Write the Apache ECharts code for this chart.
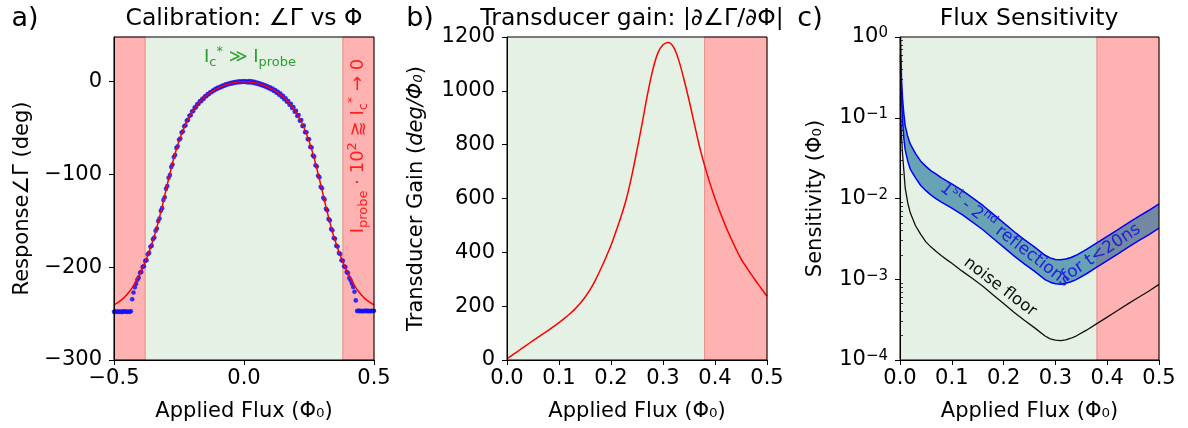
<!DOCTYPE html>
<html>
<head>
<meta charset="utf-8">
<script src="https://cdn.jsdelivr.net/npm/echarts@6/dist/echarts.min.js"></script>
<style>
html, body { margin: 0; padding: 0; background: #fff; }
#chart { width: 1188px; height: 428px; }
</style>
</head>
<body>
<div id="chart"></div>
<script>
const FONT = "'DejaVu Sans', sans-serif";

// ---- a) calibration: measured phase (dots) and fitted phase (line) ----
const dotFluxStart = -0.5;
const dotFluxStep = 0.005;
const dotPhase = [
  -248.1,-247.6,-248.3,-247.7,-248.2,-247.8,-248.4,-247.6,-248.0,-247.5,
  -248.3,-247.7,-248.1,-247.4,-234.5,-227.2,-221.6,-217.9,-213.6,-211.2,
  -206.0,-205.1,-199.8,-198.9,-193.3,-192.4,-186.0,-184.6,-178.1,-176.8,
  -169.8,-168.1,-160.7,-158.4,-150.2,-147.5,-139.3,-136.4,-127.7,-124.6,
  -115.6,-112.6,-103.6,-100.8,-92.1,-89.5,-81.3,-79.1,-71.5,-69.7,
  -62.8,-61.3,-55.0,-53.8,-48.1,-47.2,-42.1,-41.3,-36.8,-36.2,
  -32.2,-31.7,-28.1,-27.8,-24.5,-24.2,-21.3,-21.1,-18.5,-18.4,
  -15.9,-15.8,-13.5,-13.5,-11.5,-11.5,-9.6,-9.7,-7.9,-8.2,
  -6.5,-6.9,-5.3,-5.7,-4.1,-4.5,-3.0,-3.5,-2.1,-2.7,
  -1.3,-2.0,-0.7,-1.4,-0.2,-1.0,0.2,-0.7,0.4,-0.5,
  0.6,-0.5,0.4,-0.9,0.5,-1.1,0.2,-1.4,-0.3,-2.0,
  -1.0,-2.9,-1.9,-3.6,-2.9,-4.8,-3.8,-5.9,-5.1,-7.2,
  -6.3,-8.6,-7.6,-10.1,-9.2,-12.0,-11.1,-14.1,-13.0,-16.5,
  -15.4,-19.0,-18.0,-21.8,-20.9,-24.9,-24.0,-28.5,-27.6,-32.5,
  -31.6,-37.0,-36.1,-42.1,-41.5,-47.9,-47.5,-54.5,-54.6,-62.0,
  -62.2,-70.4,-71.0,-79.8,-80.9,-90.2,-91.6,-101.5,-103.0,-113.3,
  -115.0,-125.2,-127.1,-137.0,-138.7,-148.1,-149.6,-158.8,-160.3,-168.5,
  -169.4,-177.0,-177.8,-184.8,-185.8,-192.5,-193.2,-199.0,-199.9,-205.3,
  -206.4,-211.5,-214.0,-217.6,-221.3,-226.4,-235.8,-247.3,-246.6,-247.5,
  -246.9,-247.6,-247.0,-247.4,-246.8,-247.5,-247.1,-247.6,-246.9,-247.3,
  -247.0
];
// fit is even in flux: values for 0 ... 0.5 in steps of 0.01
const fitFluxStep = 0.01;
const fitPhase = [
  0, -0.1, -0.3, -0.7, -1.2, -1.8, -2.6, -3.5, -4.6, -5.8,
  -7.0, -8.4, -10.1, -12.0, -14.1, -16.5, -19.1, -22.0, -25.2, -28.9,
  -33.0, -37.7, -43.1, -49.2, -56.2, -64.0, -72.8, -82.7, -93.5, -105.0,
  -117.0, -129.0, -140.6, -151.5, -162.0, -171.0, -179.3, -187.2, -194.4, -200.8,
  -207.0, -212.3, -217.4, -222.0, -226.0, -229.5, -232.5, -235.0, -237.2, -239.0,
  -240.5
];
const phaseTicks = [-300, -200, -100, 0];

// ---- b) transducer gain |d angle / d flux| for 0 ... 0.5 in steps of 0.01 ----
const gainFluxStep = 0.01;
const gainValues = [
  5, 18, 31, 45, 58, 72, 85, 98, 111, 125,
  139, 154, 170, 188, 209, 233, 262, 297, 337, 380,
  426, 480, 537, 602, 685, 780, 880, 985, 1075, 1140,
  1171, 1180, 1163, 1115, 1045, 966, 880, 795, 722, 658,
  600, 548, 500, 455, 414, 376, 346, 317, 290, 263,
  237
];

// ---- c) flux sensitivity ----
const sensFlux = [0.001, 0.002, 0.003, 0.005, 0.0075, 0.01, 0.015, 0.02, 0.03, 0.04,
  0.05, 0.06, 0.07, 0.08, 0.09, 0.10, 0.12, 0.14, 0.16, 0.18,
  0.20, 0.22, 0.24, 0.26, 0.28, 0.29, 0.30, 0.31, 0.32, 0.33,
  0.34, 0.36, 0.38, 0.40, 0.42, 0.44, 0.46, 0.48, 0.50];
const noiseFloor = [0.15, 0.085, 0.058, 0.035, 0.022, 0.0135, 0.0088, 0.0066, 0.0046, 0.0036,
  0.0029, 0.0025, 0.0022, 0.00195, 0.00175, 0.00158, 0.00126, 0.00102, 0.00082, 0.00064,
  0.00050, 0.00039, 0.00031, 0.00025, 0.000198, 0.000183, 0.000176, 0.000174, 0.000177, 0.000186,
  0.000198, 0.000234, 0.000282, 0.00034, 0.00041, 0.000495, 0.000595, 0.00071, 0.000865];
const bandUpper = [1.0, 0.5, 0.3, 0.17, 0.11, 0.08, 0.058, 0.047, 0.036, 0.029,
  0.025, 0.022, 0.020, 0.018, 0.0165, 0.0152, 0.0126, 0.0102, 0.0082, 0.0064,
  0.0050, 0.0039, 0.0031, 0.0025, 0.00198, 0.00184, 0.00176, 0.00174, 0.00178, 0.00186,
  0.00198, 0.00234, 0.00282, 0.0034, 0.0041, 0.00495, 0.00595, 0.0071, 0.0086];
const bandLower = [0.6, 0.3, 0.17, 0.09, 0.055, 0.04, 0.029, 0.023, 0.018, 0.0145,
  0.0125, 0.011, 0.0099, 0.009, 0.0083, 0.0076, 0.0063, 0.0051, 0.0041, 0.0032,
  0.0025, 0.00195, 0.00155, 0.00125, 0.00099, 0.00092, 0.00088, 0.00087, 0.00089, 0.00093,
  0.00099, 0.00117, 0.00141, 0.0017, 0.00205, 0.00248, 0.00298, 0.00355, 0.0043];
const sensMajorTicks = [1e-4, 1e-3, 1e-2, 1e-1, 1];
const sensMinorTicks = [2e-4, 3e-4, 4e-4, 5e-4, 6e-4, 7e-4, 8e-4, 9e-4,
  2e-3, 3e-3, 4e-3, 5e-3, 6e-3, 7e-3, 8e-3, 9e-3,
  2e-2, 3e-2, 4e-2, 5e-2, 6e-2, 7e-2, 8e-2, 9e-2,
  0.2, 0.3, 0.4, 0.5, 0.6, 0.7, 0.8, 0.9];

// operating-region boundary (flux quanta)
const safeFlux = 0.38;

// ---- layout ----
const TOP = 37, HEIGHT = 323;
const panels = [
  { left: 114, width: 260 },
  { left: 507, width: 260 },
  { left: 900, width: 259 }
];

const GREEN_BG = 'rgb(229,241,228)';
const RED_BG = 'rgba(255,0,0,0.3)';
const TICK_FS = 21;

const r3 = v => Math.round(v * 1000) / 1000;
const minus = s => s.replace('-', '\u2212');

const dotData = dotPhase.map((p, i) => [r3(dotFluxStart + i * dotFluxStep), p]);
const fitData = [];
for (let i = fitPhase.length - 1; i > 0; i--) fitData.push([-r3(i * fitFluxStep), fitPhase[i]]);
for (let i = 0; i < fitPhase.length; i++) fitData.push([r3(i * fitFluxStep), fitPhase[i]]);
const gainData = gainValues.map((g, i) => [r3(i * gainFluxStep), g]);
const noiseData = sensFlux.map((f, i) => [f, noiseFloor[i]]);
const upperData = sensFlux.map((f, i) => [f, bandUpper[i]]);
const lowerData = sensFlux.map((f, i) => [f, bandLower[i]]);

const labelStyle = { fontFamily: FONT, fontSize: TICK_FS, color: '#000' };

function xAxisFor(gi, min, max, interval) {
  return {
    type: 'value', gridIndex: gi, min, max, interval, z: 5,
    axisLine: { show: true, onZero: false, lineStyle: { color: '#000', width: 1 } },
    axisTick: { show: true, length: 5, lineStyle: { color: '#000', width: 1 } },
    axisLabel: Object.assign({ margin: 8, showMinLabel: true, showMaxLabel: true, hideOverlap: false,
      formatter: v => minus(v.toFixed(1)) }, labelStyle),
    splitLine: { show: false },
    name: 'Applied Flux (\u03A6\u2080)', nameLocation: 'middle', nameGap: 41,
    nameTextStyle: labelStyle
  };
}

function yBase(gi, extra) {
  return Object.assign({
    gridIndex: gi, z: 5,
    axisLine: { show: true, onZero: false, lineStyle: { color: '#000', width: 1 } },
    axisTick: { show: true, length: 5, lineStyle: { color: '#000', width: 1 } },
    splitLine: { show: false },
    nameLocation: 'middle', nameRotate: 90
  }, extra);
}

const supRich = { e: { fontFamily: FONT, fontSize: 15, lineHeight: 14, verticalAlign: 'top', color: '#000' } };

const option = {
  animation: false,
  backgroundColor: '#fff',
  grid: panels.map(p => ({ left: p.left, top: TOP, width: p.width, height: HEIGHT, containLabel: false })),
  xAxis: [
    xAxisFor(0, -0.5, 0.5, 0.5),
    xAxisFor(1, 0, 0.5, 0.1),
    xAxisFor(2, 0, 0.5, 0.1)
  ],
  yAxis: [
    yBase(0, {
      type: 'value', min: -300, max: 48,
      axisTick: { show: true, length: 5, customValues: phaseTicks, lineStyle: { color: '#000', width: 1 } },
      axisLabel: Object.assign({ margin: 12, customValues: phaseTicks, formatter: v => minus(String(v)) }, labelStyle),
      name: 'Response\u2220\u0393 (deg)', nameGap: 81, nameTextStyle: labelStyle
    }),
    yBase(1, {
      type: 'value', min: 0, max: 1200, interval: 200,
      axisLabel: Object.assign({ margin: 12, formatter: v => String(v) }, labelStyle),
      name: '{n|Transducer Gain (}{i|deg/\u03A6\u2080}{n|)}', nameGap: 80,
      nameTextStyle: Object.assign({ rich: {
        n: { fontFamily: FONT, fontSize: TICK_FS, color: '#000' },
        i: { fontFamily: FONT, fontSize: TICK_FS, fontStyle: 'italic', color: '#000' }
      } }, labelStyle)
    }),
    yBase(2, {
      type: 'log', logBase: 10, min: 1e-4, max: 1,
      axisTick: { show: true, length: 5, customValues: sensMajorTicks, lineStyle: { color: '#000', width: 1 } },
      axisLabel: Object.assign({ margin: 12, lineHeight: 22, customValues: sensMajorTicks, rich: supRich,
        formatter: v => '10{e|' + minus(String(Math.round(Math.log10(v)))) + '}' }, labelStyle),
      name: 'Sensitivity (\u03A6\u2080)', nameGap: 74, nameTextStyle: labelStyle
    }),
    // minor ticks of the logarithmic axis
    yBase(2, {
      type: 'log', logBase: 10, min: 1e-4, max: 1,
      axisLine: { show: false },
      axisTick: { show: true, length: 3, customValues: sensMinorTicks, lineStyle: { color: '#000', width: 0.8 } },
      axisLabel: { show: false }
    })
  ],
  series: [
    // --- panel a ---
    { type: 'line', xAxisIndex: 0, yAxisIndex: 0, data: [], z: 1, silent: true,
      markArea: { silent: true, itemStyle: { color: GREEN_BG },
        data: [[{ xAxis: -safeFlux }, { xAxis: safeFlux }]] } },
    { type: 'line', xAxisIndex: 0, yAxisIndex: 0, data: [], z: 1, silent: true,
      markArea: { silent: true, itemStyle: { color: RED_BG, borderColor: 'rgba(220,0,0,0.35)', borderWidth: 1 },
        data: [[{ xAxis: -0.5 }, { xAxis: -safeFlux }], [{ xAxis: safeFlux }, { xAxis: 0.5 }]] } },
    { type: 'scatter', xAxisIndex: 0, yAxisIndex: 0, data: dotData, z: 3,
      symbol: 'circle', symbolSize: 4.6, itemStyle: { color: '#1010ff', opacity: 0.85 } },
    { type: 'line', xAxisIndex: 0, yAxisIndex: 0, data: fitData, z: 4,
      showSymbol: false, lineStyle: { color: '#ff0000', width: 1.5 } },

    // --- panel b ---
    { type: 'line', xAxisIndex: 1, yAxisIndex: 1, data: [], z: 1, silent: true,
      markArea: { silent: true, itemStyle: { color: GREEN_BG }, data: [[{ xAxis: 0 }, { xAxis: safeFlux }]] } },
    { type: 'line', xAxisIndex: 1, yAxisIndex: 1, data: [], z: 1, silent: true,
      markArea: { silent: true, itemStyle: { color: RED_BG, borderColor: 'rgba(220,0,0,0.35)', borderWidth: 1 },
        data: [[{ xAxis: safeFlux }, { xAxis: 0.5 }]] } },
    { type: 'line', xAxisIndex: 1, yAxisIndex: 1, data: gainData, z: 4, smooth: 0.35,
      showSymbol: false, lineStyle: { color: '#ff0000', width: 1.5 } },

    // --- panel c ---
    { type: 'line', xAxisIndex: 2, yAxisIndex: 2, data: [], z: 1, silent: true,
      markArea: { silent: true, itemStyle: { color: GREEN_BG }, data: [[{ xAxis: 0 }, { xAxis: safeFlux }]] } },
    { type: 'custom', xAxisIndex: 2, yAxisIndex: 2, z: 2, silent: true,
      data: [[0.25, 0.01]],
      renderItem: (params, api) => {
        const pts = [];
        for (let i = 0; i < sensFlux.length; i++) pts.push(api.coord([sensFlux[i], bandUpper[i]]));
        for (let i = sensFlux.length - 1; i >= 0; i--) pts.push(api.coord([sensFlux[i], bandLower[i]]));
        return { type: 'polygon', shape: { points: pts }, style: { fill: 'rgba(20,110,150,0.6)' } };
      } },
    { type: 'line', xAxisIndex: 2, yAxisIndex: 2, data: [], z: 3, silent: true,
      markArea: { silent: true, itemStyle: { color: RED_BG, borderColor: 'rgba(220,0,0,0.35)', borderWidth: 1 },
        data: [[{ xAxis: safeFlux }, { xAxis: 0.5 }]] } },
    { type: 'line', xAxisIndex: 2, yAxisIndex: 2, data: upperData, z: 4,
      showSymbol: false, lineStyle: { color: '#0000ff', width: 1.5 } },
    { type: 'line', xAxisIndex: 2, yAxisIndex: 2, data: lowerData, z: 4,
      showSymbol: false, lineStyle: { color: '#0000ff', width: 1.5 } },
    { type: 'line', xAxisIndex: 2, yAxisIndex: 2, data: noiseData, z: 4,
      showSymbol: false, lineStyle: { color: '#111', width: 1.3 } }
  ],
  graphic: []
};

// plot frames
panels.forEach(p => {
  option.graphic.push({ type: 'rect', z: 50, silent: true,
    shape: { x: p.left, y: TOP, width: p.width, height: HEIGHT },
    style: { fill: null, stroke: '#000', lineWidth: 1 } });
});

function text(x, y, str, size, color, extra) {
  return Object.assign({ type: 'text', x, y, z: 60, silent: true,
    style: { text: str, fontFamily: FONT, fontSize: size, fill: color, align: 'center', verticalAlign: 'middle' } }, extra || {});
}
function richText(x, y, str, size, color, rotation) {
  const sm = Math.round(size * 0.7);
  return { type: 'text', x, y, z: 60, silent: true, rotation: rotation || 0,
    style: { text: str, fontFamily: FONT, fontSize: size, fill: color, align: 'center', verticalAlign: 'middle',
      rich: {
        m: { fontFamily: FONT, fontSize: size, lineHeight: size + 6, fill: color },
        s: { fontFamily: FONT, fontSize: sm, lineHeight: sm, verticalAlign: 'bottom', fill: color },
        p: { fontFamily: FONT, fontSize: sm, lineHeight: sm, verticalAlign: 'top', fill: color }
      } } };
}

// panel letters and titles
option.graphic.push(text(25, 19, 'a)', 27, '#000'));
option.graphic.push(text(420, 19, 'b)', 27, '#000'));
option.graphic.push(text(810, 19, 'c)', 27, '#000'));
option.graphic.push(text(244, 19, 'Calibration: \u2220\u0393 vs \u03A6', 23.5, '#000'));
option.graphic.push(text(632, 19, 'Transducer gain: |\u2202\u2220\u0393/\u2202\u03A6|', 23.5, '#000'));
option.graphic.push(text(1029, 19, 'Flux Sensitivity', 23.5, '#000'));

// region annotations
option.graphic.push(richText(250, 57, '{m|I}{s|c}{p|*}{m| \u226B I}{s|probe}', 18, '#2ca02c'));
option.graphic.push(richText(358, 146, '{m|I}{s|probe}{m| \u00B7 10}{p|2}{m| \u2A86 I}{s|c}{p|*}{m| \u2192 0}', 18, '#ff2020', Math.PI / 2));

// curve annotations in panel c
option.graphic.push(richText(1005, 235, '{m|1}{p|st}{m| - 2}{p|nd}{m| reflections}', 17, '#2020e0', -0.658));
option.graphic.push(richText(1101, 253, '{m|for t<20ns}', 17, '#2020e0', 0.59));
option.graphic.push(richText(1000, 287, '{m|noise floor}', 16.5, '#111', -0.651));

const chart = echarts.init(document.getElementById('chart'), null, { renderer: 'canvas' });
chart.setOption(option);
</script>
</body>
</html>
